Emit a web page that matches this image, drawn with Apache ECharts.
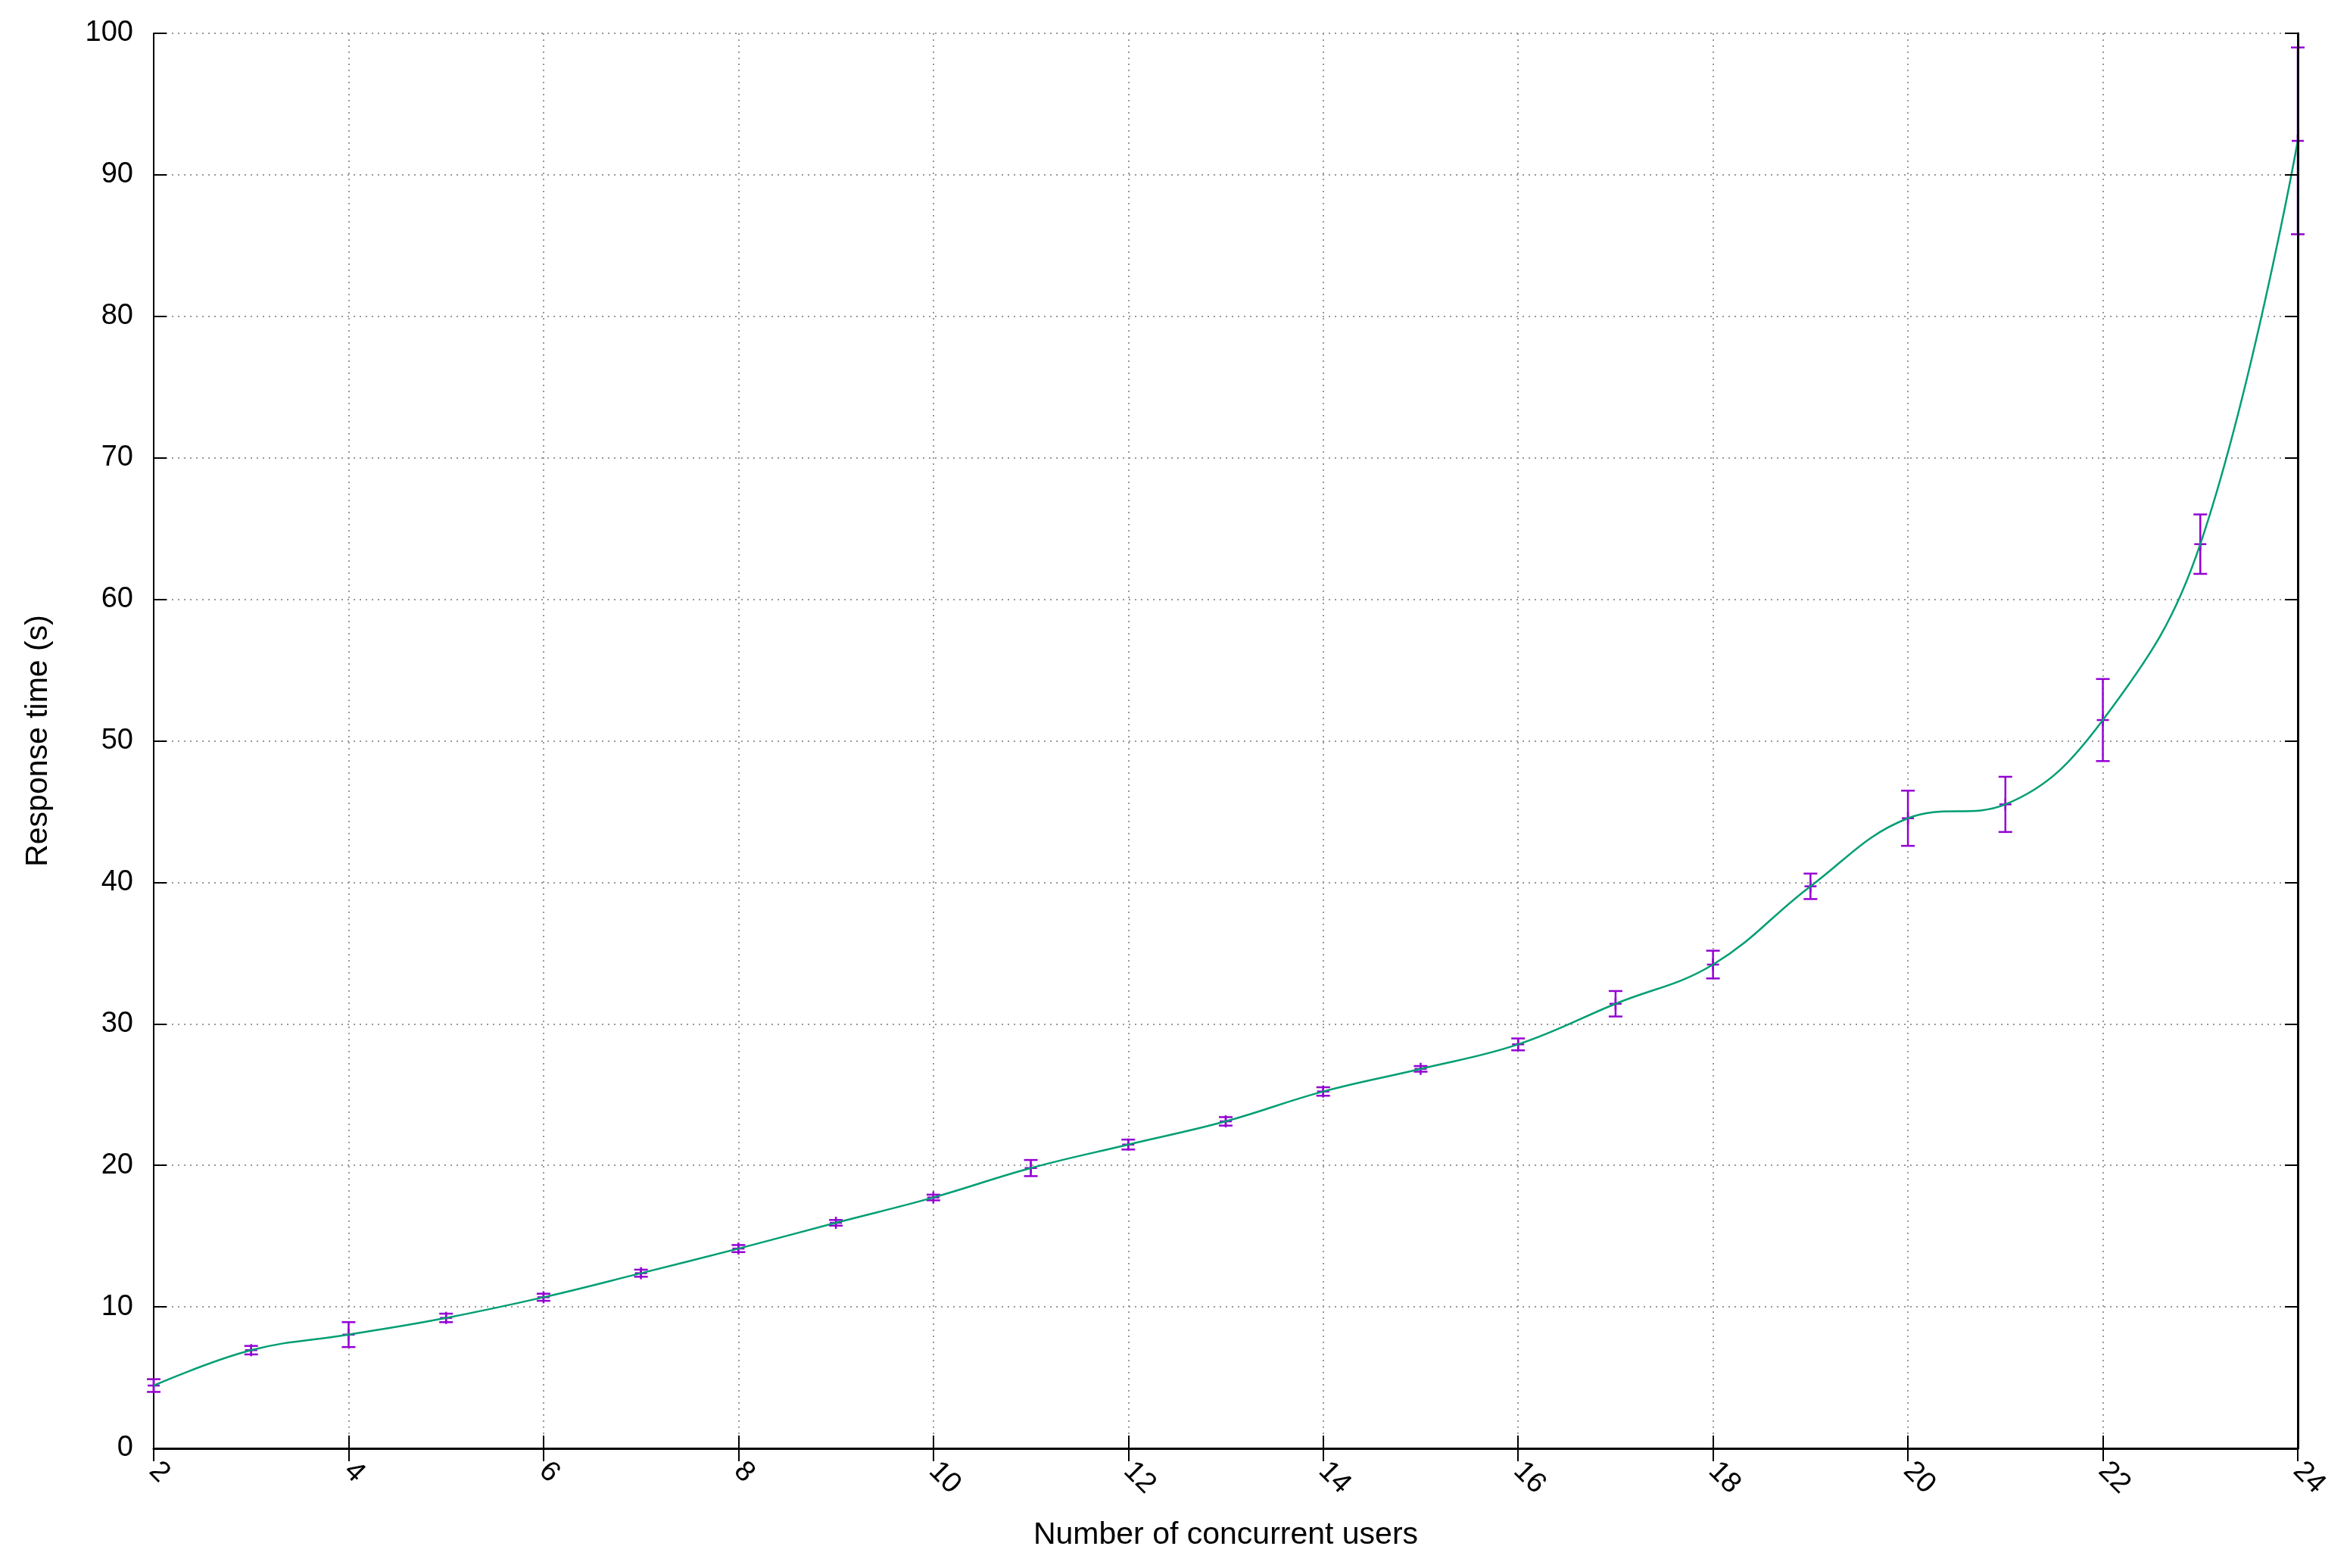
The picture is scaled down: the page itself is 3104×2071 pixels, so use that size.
<!DOCTYPE html>
<html>
<head>
<meta charset="utf-8">
<title>Response time vs concurrent users</title>
<script src="https://cdn.jsdelivr.net/npm/echarts@6/dist/echarts.min.js"></script>
<style>
  html, body { margin: 0; padding: 0; background: #fff; }
  #chart { width: 3104px; height: 2071px; }
</style>
</head>
<body>
<div id="chart"></div>
<script>
var users = [2, 3, 4, 5, 6, 7, 8, 9, 10, 11, 12, 13, 14, 15, 16, 17, 18, 19, 20, 21, 22, 23, 24]
var respTime = [4.44, 6.94, 8.04, 9.22, 10.68, 12.38, 14.12, 15.94, 17.73, 19.81, 21.47, 23.11,
  25.22, 26.82, 28.55, 31.42, 34.19, 39.72, 44.53, 45.51, 51.47, 63.9, 92.4]
var respErr = [0.45, 0.3, 0.88, 0.3, 0.25, 0.25, 0.25, 0.2, 0.2, 0.57, 0.35, 0.3,
  0.3, 0.2, 0.42, 0.9, 0.98, 0.9, 1.95, 1.95, 2.9, 2.1, 6.6]

var xTitle = 'Number of concurrent users'
var yTitle = 'Response time (s)'

var FONT = "'Liberation Sans', Arial, Helvetica, sans-serif"
var lineColor = '#009e73'
var errColor = '#9400d3'

var linePoints = users.map(function(u, i) { return [u, respTime[i]] })
var errRows = users.map(function(u, i) {
  return [u, respTime[i] - respErr[i], respTime[i] + respErr[i], respTime[i]]
})

var chart = echarts.init(document.getElementById('chart'), null, { renderer: 'canvas' })

// mirror axes on top / right, just the frame and inner ticks (drawn over the data like gnuplot)
var frameAxis = {
  z: 10,
  axisLine: { show: true, lineStyle: { color: '#000', width: 3 } },
  axisTick: { show: true, inside: true, length: 17, lineStyle: { color: '#000', width: 2 } },
  axisLabel: { show: false },
  splitLine: { show: false }
}

chart.setOption({
  animation: false,
  backgroundColor: '#fff',
  grid: { left: 203, right: 69, top: 44, bottom: 158, containLabel: false },
  xAxis: [{
    type: 'value',
    min: 2,
    max: 24,
    interval: 2,
    position: 'bottom',
    name: xTitle,
    nameLocation: 'middle',
    nameGap: 94,
    nameTextStyle: { fontFamily: FONT, fontSize: 41, color: '#000' },
    axisLine: { show: true, onZero: false, lineStyle: { color: '#000', width: 2 } },
    axisTick: { show: true, inside: true, length: 17, lineStyle: { color: '#000', width: 2 } },
    axisLabel: { rotate: -45, margin: 24, fontFamily: FONT, fontSize: 38, color: '#000' },
    splitLine: { show: true, lineStyle: { color: '#999', width: 2, type: [2, 6] } }
  }, Object.assign({
    type: 'value', min: 2, max: 24, interval: 2, position: 'top'
  }, frameAxis)],
  yAxis: [{
    type: 'value',
    min: 0,
    max: 100,
    interval: 10,
    position: 'left',
    name: yTitle,
    nameLocation: 'middle',
    nameGap: 132,
    nameTextStyle: { fontFamily: FONT, fontSize: 41, color: '#000' },
    axisLine: { show: true, onZero: false, lineStyle: { color: '#000', width: 2 } },
    axisTick: { show: true, inside: true, length: 17, lineStyle: { color: '#000', width: 2 } },
    axisLabel: { margin: 27, fontFamily: FONT, fontSize: 38, color: '#000' },
    splitLine: { show: true, lineStyle: { color: '#999', width: 2, type: [2, 6] } }
  }, Object.assign({
    type: 'value', min: 0, max: 100, interval: 10, position: 'right'
  }, frameAxis)],
  series: [
    {
      name: 'errors',
      type: 'custom',
      xAxisIndex: 0,
      yAxisIndex: 0,
      clip: false,
      z: 3,
      data: errRows,
      encode: { x: 0, y: [1, 2, 3] },
      renderItem: function(params, api) {
        var x = api.value(0)
        var lo = api.coord([x, api.value(1)])
        var hi = api.coord([x, api.value(2)])
        var c = api.coord([x, api.value(3)])
        var cap = 9
        var arm = 8
        var st = { stroke: errColor, lineWidth: 2.5, fill: null }
        return {
          type: 'group',
          children: [
            { type: 'line', shape: { x1: lo[0], y1: lo[1], x2: hi[0], y2: hi[1] }, style: st },
            { type: 'line', shape: { x1: lo[0] - cap, y1: lo[1], x2: lo[0] + cap, y2: lo[1] }, style: st },
            { type: 'line', shape: { x1: hi[0] - cap, y1: hi[1], x2: hi[0] + cap, y2: hi[1] }, style: st },
            { type: 'line', shape: { x1: c[0] - arm, y1: c[1], x2: c[0] + arm, y2: c[1] }, style: st },
            { type: 'line', shape: { x1: c[0], y1: c[1] - arm, x2: c[0], y2: c[1] + arm }, style: st }
          ]
        }
      }
    },
    {
      name: 'response',
      type: 'line',
      xAxisIndex: 0,
      yAxisIndex: 0,
      data: linePoints,
      smooth: 0.4,
      showSymbol: false,
      z: 4,
      lineStyle: { color: lineColor, width: 2.5 },
      itemStyle: { color: lineColor }
    }
  ]
})
</script>
</body>
</html>
